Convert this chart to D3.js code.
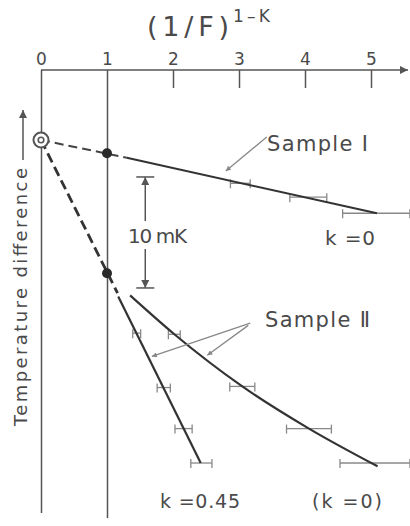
<!DOCTYPE html>
<html><head><meta charset="utf-8">
<script src="https://cdn.jsdelivr.net/npm/d3@7"></script>
<style>body{margin:0;background:#fff}svg{display:block}text{font-family:"DejaVu Sans",sans-serif;fill:#4a4a4a}</style>
</head><body><svg id="c" width="410" height="526"></svg>
<script>
// ---- data ----
const xTicks = [0, 1, 2, 3, 4, 5];
// Sample I (k = 0)
const s1DashX = [0, 1.3], s1DashY = [0, -1.6];
const s1LineX = [1.3, 5.09], s1LineY = [-1.6, -6.6];
const s1PtX = [3.02, 4.05, 5.08], s1PtY = [-3.9, -5.15, -6.6], s1Err = [0.15, 0.28, 0.51];
const s1DotX = [1], s1DotY = [-1.2];
// Sample II
const s2DashX = [0, 1.16], s2DashY = [0, -13.8];
const s2DotX = [1], s2DotY = [-12.0];
const s2aLineX = [1.17, 2.42], s2aLineY = [-14.1, -29.1];          // k = 0.45
const s2aPtX = [1.45, 1.86, 2.16, 2.43], s2aPtY = [-17.4, -22.3, -26.0, -29.1], s2aErr = [0.06, 0.1, 0.13, 0.16];
const s2bLineX = [1.35, 2.02, 3.05, 4.06, 5.1], s2bLineY = [-14.0, -17.5, -22.2, -26.0, -29.4]; // (k = 0)
const s2bPtX = [2.02, 3.05, 4.06, 5.06], s2bPtY = [-17.5, -22.2, -26.0, -29.1], s2bErr = [0.09, 0.19, 0.34, 0.53];
const scaleBar = [-3.33, -13.33]; // 10 mK

const svg = d3.select("#c");
const x = d3.scaleLinear().domain([0, 5]).range([41, 371]);
const y = d3.scaleLinear().domain([0, -10]).range([140, 251]);
const axisY = 70;

// defs
const defs = svg.append("defs");
function marker(id, color, w, h) {
  defs.append("marker").attr("id", id).attr("viewBox", "0 0 10 10").attr("refX", 10).attr("refY", 5)
    .attr("markerWidth", w).attr("markerHeight", h).attr("markerUnits", "userSpaceOnUse").attr("orient", "auto")
    .append("path").attr("d", "M0,0L10,5L0,10Z").attr("fill", color);
}
marker("arr", "#555", 11, 8);
marker("ptr", "#888", 7, 5);

// title
svg.append("text").attr("x", 147).attr("y", 36).attr("font-size", 27)
  .attr("textLength", 82).attr("lengthAdjust", "spacing").text("(1/F)");
svg.append("text").attr("x", 233).attr("y", 22).attr("font-size", 17).attr("textLength", 37).attr("lengthAdjust", "spacing").text("1\u2013K");

// top axis
const ax = svg.append("g").attr("transform", `translate(0,${axisY})`)
  .call(d3.axisTop(x).tickValues(xTicks).tickFormat(d3.format("d")).tickSizeInner(-18).tickSizeOuter(0).tickPadding(5));
ax.select(".domain").remove();
ax.selectAll(".tick line").attr("stroke", "#555").attr("stroke-width", 1.5)
  .attr("y2", d => d === 0 ? 443 : d === 1 ? 448 : 18);
ax.selectAll(".tick text").attr("font-size", 17).attr("fill", "#4a4a4a").style("font-family", '"DejaVu Sans",sans-serif');
svg.append("line").attr("x1", x(0)).attr("x2", 408).attr("y1", axisY).attr("y2", axisY)
  .attr("stroke", "#555").attr("stroke-width", 1.5).attr("marker-end", "url(#arr)");

// y label
svg.append("text").attr("transform", "translate(27,297) rotate(-90)").attr("text-anchor", "middle")
  .attr("font-size", 18).attr("textLength", 258).attr("lengthAdjust", "spacing").text("Temperature  difference");
svg.append("line").attr("x1", 23).attr("x2", 23).attr("y1", 160).attr("y2", 110)
  .attr("stroke", "#555").attr("stroke-width", 1.5).attr("marker-end", "url(#arr)");

const line = d3.line().x(d => x(d[0])).y(d => y(d[1]));
const zip = (a, b) => a.map((v, i) => [v, b[i]]);

// error bars
function errBars(px, py, pe) {
  const g = svg.append("g").attr("stroke", "#888").attr("stroke-width", 1.3).attr("fill", "none");
  px.forEach((v, i) => {
    const yy = y(py[i]), l = x(v - pe[i]), r = x(v + pe[i]);
    g.append("line").attr("x1", l).attr("x2", r).attr("y1", yy).attr("y2", yy);
    g.append("line").attr("x1", l).attr("x2", l).attr("y1", yy - 4).attr("y2", yy + 5);
    g.append("line").attr("x1", r).attr("x2", r).attr("y1", yy - 4).attr("y2", yy + 5);
  });
}
errBars(s1PtX, s1PtY, s1Err);
errBars(s2aPtX, s2aPtY, s2aErr);
errBars(s2bPtX, s2bPtY, s2bErr);

// dashed lines
svg.append("path").attr("d", line(zip(s1DashX, s1DashY))).attr("fill", "none").attr("stroke", "#444")
  .attr("stroke-width", 2).attr("stroke-dasharray", "9,5");
svg.append("path").attr("d", line(zip(s2DashX, s2DashY))).attr("fill", "none").attr("stroke", "#333")
  .attr("stroke-width", 2.8).attr("stroke-dasharray", "10,5");
// solid lines
svg.append("path").attr("d", line(zip(s1LineX, s1LineY))).attr("fill", "none").attr("stroke", "#333").attr("stroke-width", 2);
svg.append("path").attr("d", line(zip(s2aLineX, s2aLineY))).attr("fill", "none").attr("stroke", "#333").attr("stroke-width", 2.2);
svg.append("path").attr("d", d3.line().x(d => x(d[0])).y(d => y(d[1])).curve(d3.curveMonotoneX)(zip(s2bLineX, s2bLineY)))
  .attr("fill", "none").attr("stroke", "#333").attr("stroke-width", 2.2);

// dots
svg.selectAll(".dot").data(zip(s1DotX, s1DotY).concat(zip(s2DotX, s2DotY))).join("circle")
  .attr("cx", d => x(d[0])).attr("cy", d => y(d[1])).attr("r", 5).attr("fill", "#2a2a2a");
svg.append("circle").attr("cx", x(0)).attr("cy", y(0)).attr("r", 7.5).attr("fill", "#fff").attr("stroke", "#555").attr("stroke-width", 2);
svg.append("circle").attr("cx", x(0)).attr("cy", y(0)).attr("r", 2.8).attr("fill", "#fff").attr("stroke", "#555").attr("stroke-width", 1.6);

// 10 mK scale bar
const bx = x(1.58);
svg.append("g").attr("stroke", "#555").attr("stroke-width", 1.5).call(g => {
  g.append("line").attr("x1", bx - 9).attr("x2", bx + 9).attr("y1", y(scaleBar[0])).attr("y2", y(scaleBar[0]));
  g.append("line").attr("x1", bx - 9).attr("x2", bx + 9).attr("y1", y(scaleBar[1])).attr("y2", y(scaleBar[1]));
  g.append("line").attr("x1", bx).attr("x2", bx).attr("y1", 221).attr("y2", y(scaleBar[0])).attr("marker-end", "url(#arr)");
  g.append("line").attr("x1", bx).attr("x2", bx).attr("y1", 249).attr("y2", y(scaleBar[1])).attr("marker-end", "url(#arr)");
});
svg.append("text").attr("x", 128).attr("y", 243).attr("font-size", 20).attr("textLength", 59).attr("lengthAdjust", "spacing").text("10 mK");

// annotations
const ptr = svg.append("g").attr("stroke", "#888").attr("stroke-width", 1.3);
[[3.42, 0.27, 2.80, -2.79], [3.17, -16.5, 1.68, -19.5], [3.14, -16.7, 2.52, -19.4]].forEach(a => {
  ptr.append("line").attr("x1", x(a[0])).attr("y1", y(a[1])).attr("x2", x(a[2])).attr("y2", y(a[3])).attr("marker-end", "url(#ptr)");
});
svg.append("text").attr("x", 267).attr("y", 151).attr("font-size", 21).attr("textLength", 101).attr("lengthAdjust", "spacing").text("Sample \u2160");
svg.append("text").attr("x", 265).attr("y", 327).attr("font-size", 21).attr("textLength", 105).attr("lengthAdjust", "spacing").text("Sample \u2161");
svg.append("text").attr("x", 325).attr("y", 245).attr("font-size", 20).attr("textLength", 50).attr("lengthAdjust", "spacing").text("k =0");
svg.append("text").attr("x", 160).attr("y", 508).attr("font-size", 19).attr("textLength", 80).attr("lengthAdjust", "spacing").text("k =0.45");
svg.append("text").attr("x", 312).attr("y", 508).attr("font-size", 19).attr("textLength", 70).attr("lengthAdjust", "spacing").text("(k =0)");
</script></body></html>
